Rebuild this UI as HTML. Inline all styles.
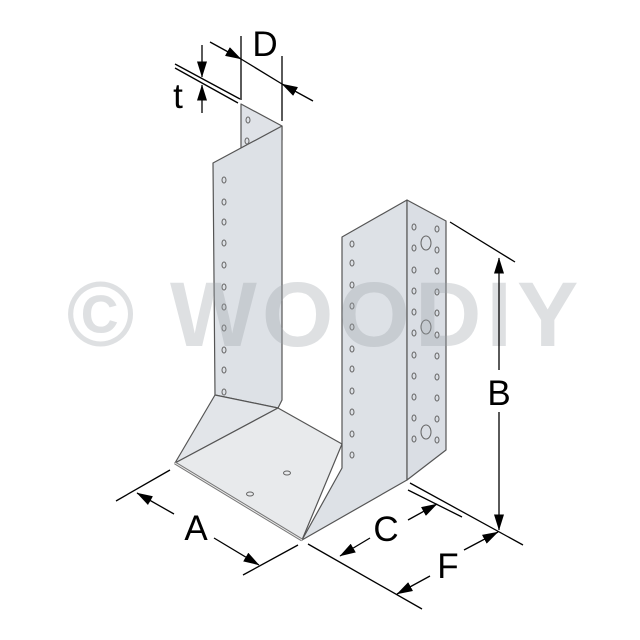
<!DOCTYPE html>
<html><head><style>
html,body{margin:0;padding:0;background:#fff;width:640px;height:640px;overflow:hidden}
svg{display:block}
</style></head><body>
<svg width="640" height="640" viewBox="0 0 640 640" xmlns="http://www.w3.org/2000/svg">
<defs>
<marker id="ar" markerWidth="16" markerHeight="10" refX="15.5" refY="5" orient="auto" markerUnits="userSpaceOnUse" viewBox="0 0 16 10">
<path d="M0,0 L16,5 L0,10 z" fill="#000"/></marker>
</defs>
<g stroke="#555" stroke-width="1.2" stroke-linejoin="round">
<polygon points="241,104 282,126 282,140 241,150" fill="#dfe2e7"/>
<polygon points="213,163 282,126 282,400 278,408 215,395" fill="#dde1e6"/>
<polygon points="215,395 278,408 175,463" fill="#e2e5e9"/>
<polygon points="175,463 278,408 342,444 302,540" fill="#e8eaec"/>
<polygon points="302,540 342,468 342,237 407,200 407,480" fill="#dde1e6"/>
<polygon points="407,200 446,221 446,450 407,480" fill="#dadee4"/>
<line x1="175" y1="463" x2="302" y2="540" stroke="#777" stroke-width="3"/>
<line x1="175" y1="463" x2="302" y2="540" stroke="#eee" stroke-width="1"/>
</g>
<g fill="none" stroke="#666" stroke-width="1">
<ellipse cx="248" cy="120" rx="2" ry="3"/><ellipse cx="247" cy="141" rx="2" ry="3"/>
<ellipse cx="224" cy="180" rx="2" ry="3"/><ellipse cx="224" cy="202" rx="2" ry="3"/><ellipse cx="224" cy="222" rx="2" ry="3"/><ellipse cx="224" cy="243" rx="2" ry="3"/><ellipse cx="224" cy="265" rx="2" ry="3"/><ellipse cx="224" cy="287" rx="2" ry="3"/><ellipse cx="224" cy="307" rx="2" ry="3"/><ellipse cx="224" cy="328" rx="2" ry="3"/><ellipse cx="224" cy="350" rx="2" ry="3"/><ellipse cx="224" cy="370" rx="2" ry="3"/><ellipse cx="224" cy="392" rx="2" ry="3"/>
<ellipse cx="352" cy="244" rx="2" ry="3"/><ellipse cx="352" cy="263" rx="2" ry="3"/><ellipse cx="352" cy="285" rx="2" ry="3"/><ellipse cx="352" cy="306" rx="2" ry="3"/><ellipse cx="352" cy="327" rx="2" ry="3"/><ellipse cx="352" cy="349" rx="2" ry="3"/><ellipse cx="352" cy="369" rx="2" ry="3"/><ellipse cx="352" cy="391" rx="2" ry="3"/><ellipse cx="352" cy="412" rx="2" ry="3"/><ellipse cx="352" cy="434" rx="2" ry="3"/><ellipse cx="352" cy="455" rx="2" ry="3"/>
<ellipse cx="414" cy="227" rx="2" ry="3"/><ellipse cx="414" cy="248" rx="2" ry="3"/><ellipse cx="414" cy="270" rx="2" ry="3"/><ellipse cx="414" cy="291" rx="2" ry="3"/><ellipse cx="414" cy="312" rx="2" ry="3"/><ellipse cx="414" cy="333" rx="2" ry="3"/><ellipse cx="414" cy="355" rx="2" ry="3"/><ellipse cx="414" cy="376" rx="2" ry="3"/><ellipse cx="414" cy="397" rx="2" ry="3"/><ellipse cx="414" cy="418" rx="2" ry="3"/><ellipse cx="414" cy="439" rx="2" ry="3"/>
<ellipse cx="437" cy="229" rx="2" ry="3"/><ellipse cx="437" cy="250" rx="2" ry="3"/><ellipse cx="437" cy="271" rx="2" ry="3"/><ellipse cx="437" cy="292" rx="2" ry="3"/><ellipse cx="437" cy="313" rx="2" ry="3"/><ellipse cx="437" cy="335" rx="2" ry="3"/><ellipse cx="437" cy="356" rx="2" ry="3"/><ellipse cx="437" cy="377" rx="2" ry="3"/><ellipse cx="437" cy="398" rx="2" ry="3"/><ellipse cx="437" cy="419" rx="2" ry="3"/><ellipse cx="437" cy="440" rx="2" ry="3"/>
<ellipse cx="426" cy="243" rx="5" ry="7"/><ellipse cx="426" cy="327" rx="5" ry="7"/><ellipse cx="426" cy="432" rx="5" ry="7"/>
<ellipse cx="287" cy="473" rx="3.5" ry="2"/><ellipse cx="250" cy="494" rx="3.5" ry="2"/>
</g>
<text x="325" y="346" text-anchor="middle" font-family="'Liberation Sans',sans-serif" font-weight="bold" font-size="92" fill="#9aa0a8" fill-opacity="0.33" letter-spacing="5">© WOODIY</text>
<g stroke="#000" stroke-width="1.3" fill="none">
<line x1="241" y1="36" x2="241" y2="100"/>
<line x1="282" y1="56" x2="282" y2="121"/>
<line x1="210" y1="42" x2="241" y2="59" marker-end="url(#ar)"/>
<line x1="313" y1="101" x2="282" y2="84" marker-end="url(#ar)"/>
<line x1="241" y1="59" x2="282" y2="84"/>
<line x1="175" y1="64" x2="240" y2="99"/>
<line x1="175" y1="68" x2="238" y2="103"/>
<line x1="202" y1="45" x2="202" y2="77" marker-end="url(#ar)"/>
<line x1="202" y1="113" x2="202" y2="85" marker-end="url(#ar)"/>
<line x1="450" y1="222" x2="515" y2="262"/>
<line x1="410" y1="483" x2="523" y2="545"/>
<line x1="408" y1="490" x2="462" y2="517"/>
<line x1="499" y1="370" x2="499" y2="258" marker-end="url(#ar)"/>
<line x1="499" y1="412" x2="499" y2="530" marker-end="url(#ar)"/>
<line x1="370" y1="538" x2="340" y2="556" marker-end="url(#ar)"/>
<line x1="408" y1="520" x2="437" y2="504" marker-end="url(#ar)"/>
<line x1="308" y1="544" x2="422" y2="609"/>
<line x1="430" y1="576" x2="397" y2="594" marker-end="url(#ar)"/>
<line x1="464" y1="550" x2="498" y2="532" marker-end="url(#ar)"/>
<line x1="116" y1="501" x2="170" y2="470"/>
<line x1="243" y1="575" x2="298" y2="545"/>
<line x1="174" y1="514" x2="137" y2="493" marker-end="url(#ar)"/>
<line x1="214" y1="538" x2="259" y2="565" marker-end="url(#ar)"/>
</g>
<g font-family="'Liberation Sans',sans-serif" font-size="35" fill="#000" text-anchor="middle">
<text x="265" y="56">D</text>
<text x="178" y="108">t</text>
<text x="499" y="405">B</text>
<text x="196" y="540">A</text>
<text x="386" y="541">C</text>
<text x="448" y="578">F</text>
</g>
</svg>
</body></html>
